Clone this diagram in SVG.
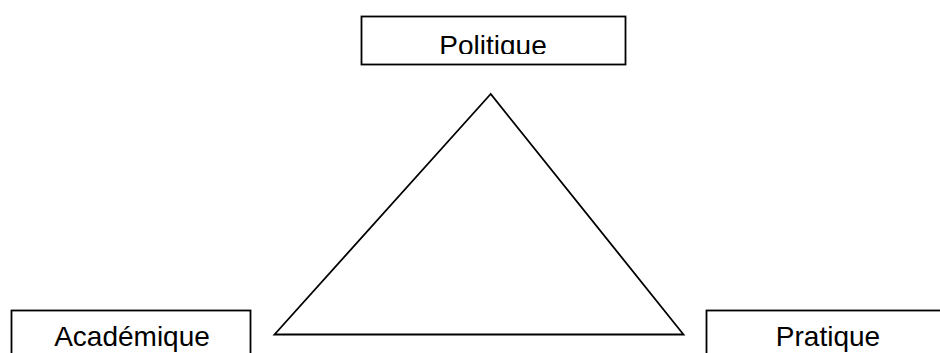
<svg xmlns="http://www.w3.org/2000/svg" width="940" height="353" viewBox="0 0 940 353">
<style>
.box{fill:#fff;stroke:#000;stroke-width:1.8}
.lbl{font-family:"Liberation Sans",Arial,sans-serif;font-size:28px;fill:#000;text-anchor:middle}
.edge{fill:none;stroke:#000;stroke-width:1.8;stroke-linejoin:miter}
</style>
<defs>
<clipPath id="clipTop"><rect x="362" y="17" width="263" height="37"/></clipPath>
</defs>
<rect width="940" height="353" fill="#fff"/>
<g id="connectors">
<polygon class="edge" points="490.7,94 274.5,334.5 683.5,334.5"/>
</g>
<g id="politique">
<rect class="box" x="361.5" y="16.5" width="264" height="48"/>
<text class="lbl" x="493" y="55" clip-path="url(#clipTop)">Politique</text>
</g>
<g id="academique">
<rect class="box" x="11.5" y="310.5" width="239" height="60"/>
<text class="lbl" x="132" y="346">Académique</text>
</g>
<g id="pratique">
<rect class="box" x="706.5" y="310.5" width="260" height="60"/>
<text class="lbl" x="828" y="346">Pratique</text>
</g>
</svg>
